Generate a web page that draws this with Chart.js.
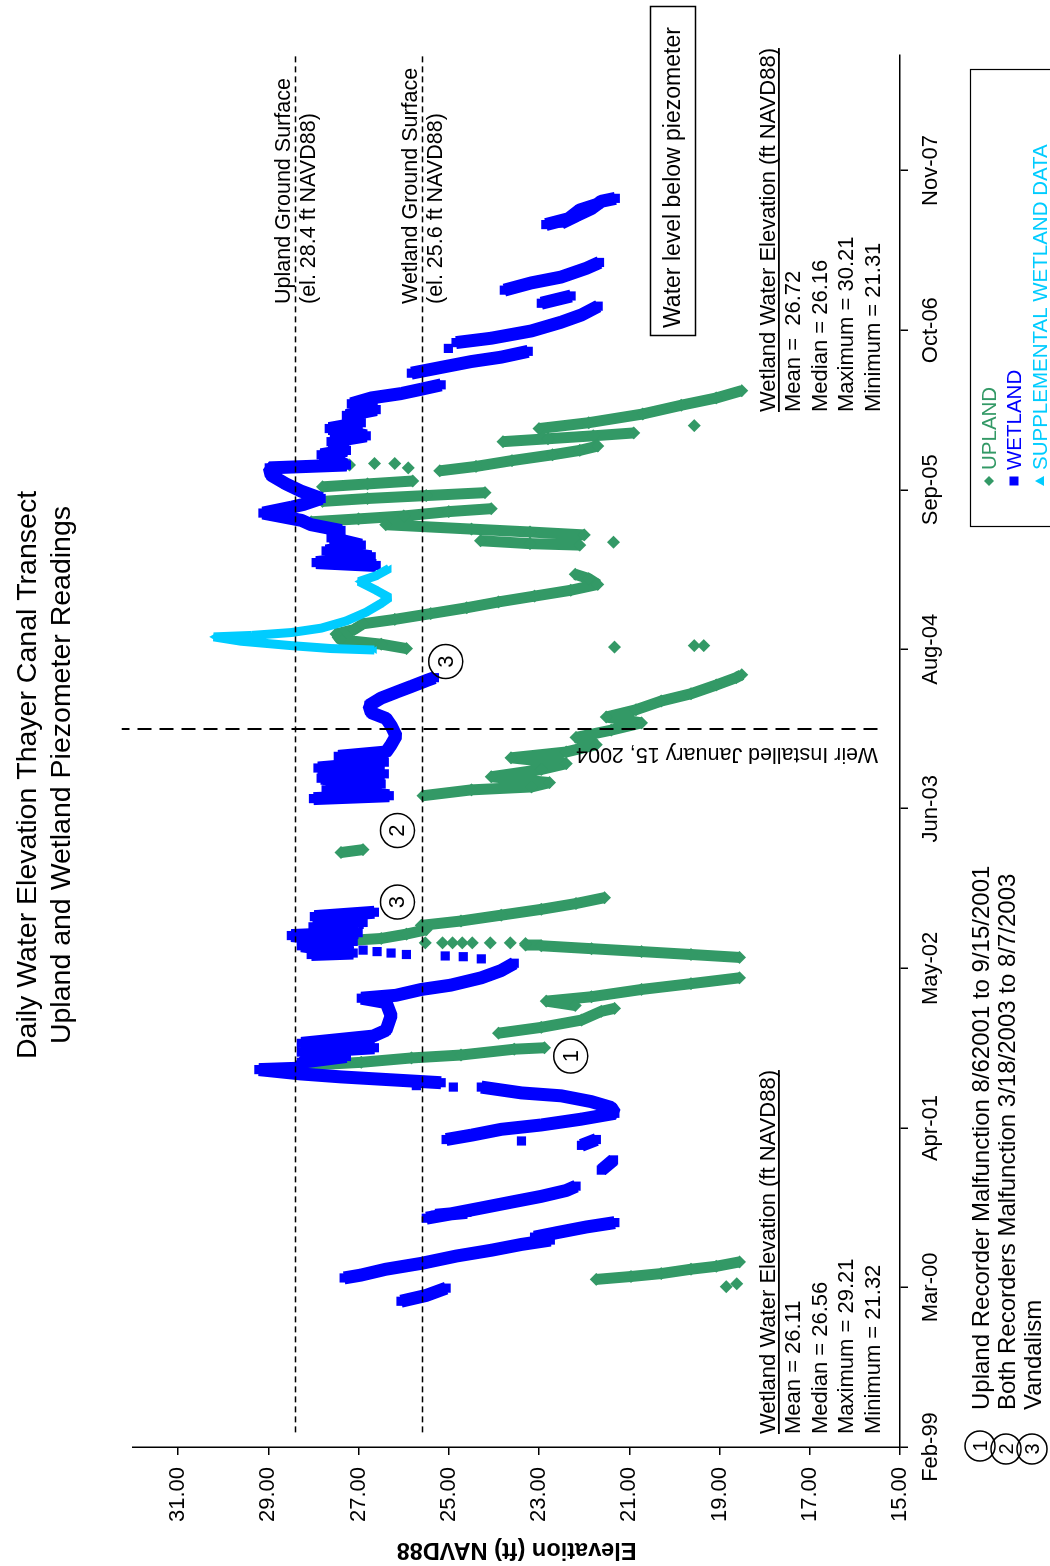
<!DOCTYPE html>
<html>
<head>
<meta charset="utf-8">
<script src="https://cdn.jsdelivr.net/npm/chart.js@4.4.1/dist/chart.umd.min.js"></script>
<style>
  html, body { margin: 0; padding: 0; background: #fff; width: 1050px; height: 1566px; overflow: hidden; }
  /* the chart is laid out landscape and turned a quarter turn counter-clockwise */
  #wrap { position: absolute; left: 0; top: 0; width: 1566px; height: 1050px;
          transform-origin: 0 0; transform: translate(0px, 1566px) rotate(-90deg); }
  canvas { display: block; }
</style>
</head>
<body>
<div id="wrap"><canvas id="chart" width="1566" height="1050"></canvas></div>
<script>
const FONT = "'Liberation Sans', Arial, Helvetica, sans-serif";
const GREEN = '#339966', BLUE = '#0000FF', CYAN = '#00CCFF';

// Date axis: 400-day major unit starting 10 Feb 1999
const tickDates  = ['1999-02-10','2000-03-16','2001-04-20','2002-05-25','2003-06-29','2004-08-02','2005-09-06','2006-10-11','2007-11-15'];
const tickLabels = ['Feb-99','Mar-00','Apr-01','May-02','Jun-03','Aug-04','Sep-05','Oct-06','Nov-07'];
const axisStart = '1999-02-10';
const axisEnd   = '2008-08-31';

// Elevation axis (ft NAVD88)
const elevTicks = [15, 17, 19, 21, 23, 25, 27, 29, 31];
const elevMin = 15, elevMax = 32;

// Reference elevations and dates
const uplandSurface = 28.4;
const wetlandSurface = 25.6;
const weirDate = '2004-01-15';

// Piezometer readings: [decimal year, elevation ft NAVD88]; null = break in the record
const upland = [
  [2000.21, 18.85], null, [2000.23, 18.62], null,
  [2000.26, 21.73], [2000.28, 20.96], [2000.30, 20.29], [2000.33, 19.63], [2000.35, 19.07], [2000.38, 18.56],
  null,
  [2001.73, 28.12], [2001.75, 26.94], [2001.78, 25.83], [2001.80, 24.73], [2001.84, 23.55], [2001.85, 22.88],
  null,
  [2001.95, 23.90], [2001.99, 22.95], [2002.04, 22.06], [2002.10, 21.62], [2002.12, 21.33],
  null,
  [2002.14, 22.20], [2002.17, 22.84], [2002.20, 21.84], [2002.25, 20.73], [2002.29, 19.63], [2002.33, 18.56],
  null,
  [2002.47, 18.56], [2002.49, 19.63], [2002.51, 20.73], [2002.53, 21.84], [2002.55, 22.95], [2002.555, 23.30],
  null,
  [2002.57, 25.52], null, [2002.57, 25.14], null, [2002.57, 24.92], null, [2002.57, 24.70], null,
  [2002.57, 24.48], null, [2002.57, 24.08], null, [2002.57, 23.64], null, [2002.565, 23.30], null,
  [2002.58, 27.54], [2002.60, 26.50], [2002.63, 25.94], [2002.66, 25.50], [2002.69, 25.61], [2002.72, 24.73],
  [2002.76, 23.84], [2002.80, 22.95], [2002.84, 22.18], [2002.88, 21.55],
  null,
  [2003.19, 27.39], [2003.21, 26.90],
  null,
  [2003.58, 25.57], [2003.62, 24.50], [2003.64, 23.17], [2003.67, 22.77], [2003.71, 24.06], [2003.76, 22.95],
  [2003.80, 22.40], [2003.84, 23.62], [2003.88, 22.40], [2003.93, 21.73], [2003.98, 22.18], [2004.03, 21.40],
  [2004.08, 20.73], [2004.12, 21.51], [2004.17, 20.85], [2004.23, 20.29], [2004.28, 19.63], [2004.34, 19.07],
  [2004.39, 18.63], [2004.41, 18.51],
  null,
  [2004.60, 21.33], null, [2004.61, 19.56], null, [2004.61, 19.35], null,
  [2004.59, 25.94], [2004.62, 26.50], [2004.65, 27.40], [2004.69, 27.50], [2004.72, 27.10], [2004.76, 26.90],
  [2004.79, 26.20], [2004.83, 25.40], [2004.87, 24.60], [2004.91, 23.90], [2004.95, 23.10], [2004.99, 22.30],
  [2005.03, 21.70], [2005.07, 21.90], [2005.10, 22.20],
  null,
  [2005.32, 21.35], null,
  [2005.30, 22.10], [2005.31, 23.20], [2005.33, 24.30],
  null,
  [2005.37, 22.00], [2005.39, 23.20], [2005.41, 24.50], [2005.44, 26.40],
  null,
  [2005.46, 28.05], [2005.48, 27.00], [2005.50, 26.00], [2005.53, 25.00], [2005.55, 24.06],
  null,
  [2005.60, 27.80], [2005.62, 26.80], [2005.64, 25.50], [2005.66, 24.20],
  null,
  [2005.70, 27.80], [2005.72, 26.80], [2005.74, 25.80],
  null,
  [2005.85, 27.20], null, [2005.86, 26.65], null, [2005.86, 26.20], null, [2005.83, 25.90], null,
  [2005.81, 25.20], [2005.84, 24.40], [2005.88, 23.60], [2005.92, 22.70], [2005.95, 22.10], [2005.98, 21.70],
  null,
  [2006.01, 23.80], [2006.03, 22.80], [2006.05, 21.80], [2006.07, 20.90],
  null,
  [2006.12, 19.56], null,
  [2006.10, 23.00], [2006.14, 21.90], [2006.20, 20.70], [2006.26, 19.85], [2006.31, 19.07], [2006.36, 18.51]
];

const wetland = [
  [2000.11, 26.06], [2000.15, 25.50], [2000.20, 25.06],
  null,
  [2000.27, 27.32], [2000.29, 26.94], [2000.33, 26.39], [2000.37, 25.61], [2000.42, 24.84], [2000.46, 24.06],
  [2000.50, 23.39], [2000.53, 22.75], [2000.55, 23.10], [2000.58, 22.62], [2000.62, 21.95], [2000.65, 21.32],
  null,
  [2000.68, 25.50], [2000.71, 24.95], [2000.75, 24.28], [2000.79, 23.62], [2000.83, 22.95], [2000.87, 22.40],
  [2000.90, 22.18],
  null,
  [2000.70, 25.30], [2000.72, 24.60],
  null,
  [2001.01, 21.62], [2001.08, 21.35],
  null,
  [2001.18, 22.06], [2001.22, 21.73],
  null,
  [2001.21, 23.39],
  null,
  [2001.22, 25.06], [2001.25, 24.50], [2001.29, 23.84], [2001.32, 22.95], [2001.36, 22.06], [2001.40, 21.32],
  [2001.44, 21.40], [2001.48, 21.84], [2001.52, 22.51], [2001.54, 23.39], [2001.58, 24.28],
  null,
  [2001.58, 24.90], null, [2001.59, 25.72], null,
  [2001.61, 25.17], [2001.63, 26.28], [2001.65, 27.39], [2001.67, 28.27], [2001.70, 29.21], [2001.71, 28.27],
  [2001.75, 28.27], [2001.79, 27.27],
  null,
  [2001.82, 28.27], [2001.85, 26.65], [2001.88, 28.27], [2001.93, 26.68], [2001.97, 26.39], [2002.07, 26.28],
  [2002.16, 26.39], [2002.19, 26.94], [2002.21, 26.17], [2002.25, 25.61], [2002.28, 24.95], [2002.33, 24.28],
  [2002.38, 23.84], [2002.43, 23.55],
  null,
  [2002.46, 24.28], null, [2002.475, 24.68], null, [2002.48, 25.08], null, [2002.49, 25.94], null,
  [2002.50, 26.28], null, [2002.51, 26.59], null, [2002.52, 26.90], null,
  [2002.49, 28.05], [2002.50, 27.12], [2002.55, 28.27], [2002.58, 27.12], [2002.62, 28.49], [2002.64, 27.01],
  [2002.68, 28.01], [2002.71, 26.90], [2002.75, 27.98], [2002.78, 26.65],
  null,
  [2003.56, 28.00], [2003.58, 26.32], [2003.62, 27.72], [2003.66, 26.50], [2003.70, 27.83], [2003.73, 26.43],
  [2003.77, 27.90], [2003.81, 26.43], [2003.85, 27.45], [2003.88, 26.39], [2003.93, 26.28], [2003.99, 26.17],
  [2004.06, 26.28], [2004.11, 26.39], [2004.15, 26.72], [2004.20, 26.77], [2004.25, 26.50], [2004.29, 26.17],
  [2004.33, 25.83], [2004.37, 25.50], [2004.39, 25.32],
  null,
  [2005.16, 26.61], [2005.18, 27.94], [2005.22, 26.72], [2005.26, 27.72], [2005.30, 26.94], [2005.35, 27.61],
  [2005.40, 27.39], [2005.44, 28.05], [2005.47, 28.27], [2005.52, 29.12], [2005.56, 28.49], [2005.58, 28.21],
  [2005.62, 27.83], [2005.67, 28.27], [2005.72, 28.61], [2005.78, 28.94], [2005.83, 28.98], [2005.85, 27.27],
  [2005.92, 27.83], [2005.95, 27.27], [2006.01, 27.61], [2006.05, 26.83], [2006.10, 27.65], [2006.14, 26.94],
  [2006.19, 27.27], [2006.23, 26.61], [2006.27, 27.16], [2006.31, 26.72], [2006.34, 26.06], [2006.37, 25.61],
  [2006.40, 25.17],
  null,
  [2006.48, 25.83], [2006.52, 25.17], [2006.56, 24.50], [2006.59, 23.84], [2006.63, 23.24],
  null,
  [2006.65, 25.01],
  null,
  [2006.69, 24.84], [2006.72, 24.06], [2006.77, 23.17], [2006.83, 22.51], [2006.88, 22.06], [2006.94, 21.69],
  null,
  [2006.96, 22.95], [2007.01, 22.29],
  null,
  [2007.05, 23.77], [2007.10, 23.17], [2007.14, 22.51], [2007.20, 21.95], [2007.24, 21.66],
  null,
  [2007.50, 22.85], [2007.54, 22.35], [2007.60, 22.10], [2007.64, 21.70],
  null,
  [2007.51, 22.51], [2007.56, 22.18], [2007.61, 21.84], [2007.66, 21.62], [2007.68, 21.31]
];

const supplemental = [
  [2004.58, 26.65], [2004.59, 27.61], [2004.61, 28.49], [2004.64, 29.60], [2004.67, 30.21], [2004.68, 29.38],
  [2004.70, 28.49], [2004.73, 27.83], [2004.78, 27.27], [2004.84, 26.83], [2004.90, 26.50], [2004.94, 26.32],
  [2004.99, 26.61], [2005.05, 26.99], [2005.09, 26.61], [2005.14, 26.32]
];

// Summary statistics for the wetland record, before and after the weir
const statsHeader = 'Wetland Water Elevation (ft NAVD88)';
const statsBefore = ['Mean = 26.11', 'Median = 26.56', 'Maximum = 29.21', 'Minimum = 21.32'];
const statsAfter  = ['Mean =  26.72', 'Median = 26.16', 'Maximum = 30.21', 'Minimum = 21.31'];

// Footnotes and the numbered flags placed beside the record
const notes = [
  ['1', 'Upland Recorder Malfunction 8/62001 to 9/15/2001'],
  ['2', 'Both Recorders Malfunction 3/18/2003 to 8/7/2003'],
  ['3', 'Vandalism']
];
const flags = [['1', 2001.793, 22.30], ['3', 2002.850, 26.14], ['2', 2003.341, 26.14], ['3', 2004.501, 25.07]];

function toYear(s) {
  const [Y, M, D] = s.split('-').map(Number);
  const t = Date.UTC(Y, M - 1, D), a = Date.UTC(Y, 0, 1), b = Date.UTC(Y + 1, 0, 1);
  return Y + (t - a) / (b - a);
}
function toPoints(list) {
  const out = [];
  let lastX = null;
  for (const p of list) {
    if (p === null) out.push({ x: lastX, y: null });
    else { out.push({ x: p[0], y: p[1] }); lastX = p[0]; }
  }
  return out;
}

const X_MIN = toYear(axisStart), X_MAX = toYear(axisEnd);

function circled(ctx, cx, cy, r, num, size) {
  ctx.beginPath();
  ctx.arc(cx, cy, r, 0, Math.PI * 2);
  ctx.lineWidth = 1.5;
  ctx.strokeStyle = '#000';
  ctx.stroke();
  ctx.font = size + 'px ' + FONT;
  ctx.textAlign = 'center';
  ctx.textBaseline = 'middle';
  ctx.fillStyle = '#000';
  ctx.fillText(num, cx, cy + 1);
}

const overlay = {
  id: 'overlay',
  afterDatasetsDraw(chart) {
    const { ctx, scales: { x, y } } = chart;
    ctx.save();
    ctx.strokeStyle = '#000';
    // ground surface elevations
    ctx.setLineDash([6, 4]);
    ctx.lineWidth = 1.5;
    for (const el of [uplandSurface, wetlandSurface]) {
      const py = Math.round(y.getPixelForValue(el)) + 0.5;
      ctx.beginPath();
      ctx.moveTo(x.getPixelForValue(1999.21), py);
      ctx.lineTo(x.getPixelForValue(X_MAX), py);
      ctx.stroke();
    }
    // weir installation date
    ctx.setLineDash([14, 8]);
    ctx.lineWidth = 2;
    const wx = Math.round(x.getPixelForValue(toYear(weirDate)));
    ctx.beginPath();
    ctx.moveTo(wx, y.getPixelForValue(15.5));
    ctx.lineTo(wx, y.getPixelForValue(32.25));
    ctx.stroke();
    ctx.restore();
  },
  afterDraw(chart) {
    const { ctx, scales: { x, y } } = chart;
    ctx.save();
    ctx.fillStyle = '#000';
    ctx.textBaseline = 'alphabetic';

    // title
    ctx.font = '28.5px ' + FONT;
    ctx.textAlign = 'center';
    ctx.fillText('Daily Water Elevation Thayer Canal Transect', 791, 36);
    ctx.fillText('Upland and Wetland Piezometer Readings', 791, 70);

    // elevation axis title
    ctx.save();
    ctx.translate(23, (chart.chartArea.top + chart.chartArea.bottom) / 2);
    ctx.rotate(-Math.PI / 2);
    ctx.font = 'bold 23.5px ' + FONT;
    ctx.textAlign = 'center';
    ctx.fillText('Elevation (ft) NAVD88', 0, 0);
    ctx.restore();

    // ground surface labels
    ctx.font = '21.5px ' + FONT;
    ctx.textAlign = 'left';
    const gu = y.getPixelForValue(uplandSurface), gw = y.getPixelForValue(wetlandSurface);
    ctx.fillText('Upland Ground Surface', 1262, gu - 5);
    ctx.fillText('(el. 28.4 ft NAVD88)', 1262, gu + 20);
    ctx.fillText('Wetland Ground Surface', 1262, gw - 5);
    ctx.fillText('(el. 25.6 ft NAVD88)', 1262, gw + 20);

    // weir label
    const wx = x.getPixelForValue(toYear(weirDate));
    ctx.save();
    ctx.translate(wx - 19, 878);
    ctx.rotate(-Math.PI / 2);
    ctx.font = '21.5px ' + FONT;
    ctx.fillText('Weir Installed January 15, 2004', 0, 0);
    ctx.restore();

    // statistics blocks
    function stats(u0, lines) {
      ctx.font = '22px ' + FONT;
      ctx.textAlign = 'left';
      ctx.fillText(statsHeader, u0, 775);
      const w = ctx.measureText(statsHeader).width;
      ctx.fillRect(u0, 778, w, 1.8);
      const base = [800, 827, 853, 880];
      lines.forEach((t, i) => ctx.fillText(t, u0, base[i]));
    }
    stats(132, statsBefore);
    stats(1154, statsAfter);

    // boxed note
    ctx.lineWidth = 1.5;
    ctx.strokeStyle = '#000';
    ctx.strokeRect(1230.5, 650.5, 329, 45);
    ctx.font = '23px ' + FONT;
    ctx.fillText('Water level below piezometer', 1238, 680);

    // numbered flags
    for (const [n, t, e] of flags) {
      circled(ctx, x.getPixelForValue(t), y.getPixelForValue(e), 17, n, 22);
    }

    // footnotes
    const noteBase = [989, 1015, 1041];
    notes.forEach(([n, txt], i) => {
      circled(ctx, 120 + (i > 0 ? -3 : 0), noteBase[i] - 9, 15, n, 20);
      ctx.font = '24px ' + FONT;
      ctx.textAlign = 'left';
      ctx.textBaseline = 'alphabetic';
      ctx.fillStyle = '#000';
      ctx.fillText(txt, 156, noteBase[i]);
    });

    // legend
    ctx.lineWidth = 1.2;
    ctx.strokeStyle = '#000';
    ctx.strokeRect(1039.5, 970.5, 457, 100);
    const items = [['UPLAND', GREEN, 'diamond'], ['WETLAND', BLUE, 'square'], ['SUPPLEMENTAL WETLAND DATA', CYAN, 'triangle']];
    const legBase = [996, 1021, 1047];
    items.forEach(([label, col, shape], i) => {
      const cy = legBase[i] - 7, cx = 1085;
      ctx.fillStyle = col;
      ctx.beginPath();
      if (shape === 'diamond') {
        ctx.moveTo(cx, cy - 5); ctx.lineTo(cx + 5, cy); ctx.lineTo(cx, cy + 5); ctx.lineTo(cx - 5, cy);
      } else if (shape === 'square') {
        ctx.rect(cx - 4.5, cy - 4.5, 9, 9);
      } else {
        ctx.moveTo(cx, cy - 5); ctx.lineTo(cx + 5, cy + 4); ctx.lineTo(cx - 5, cy + 4);
      }
      ctx.closePath();
      ctx.fill();
      ctx.font = '20.5px ' + FONT;
      ctx.textAlign = 'left';
      ctx.fillText(label, 1096, legBase[i]);
    });
    ctx.restore();
  }
};

new Chart(document.getElementById('chart'), {
  type: 'line',
  data: {
    datasets: [
      { label: 'UPLAND', data: toPoints(upland), borderColor: GREEN, backgroundColor: GREEN,
        pointBackgroundColor: GREEN, borderWidth: 11, pointStyle: 'rectRot', pointRadius: 6.5, pointBorderWidth: 0,
        borderJoinStyle: 'bevel', spanGaps: false, order: 3 },
      { label: 'WETLAND', data: toPoints(wetland), borderColor: BLUE, backgroundColor: BLUE,
        pointBackgroundColor: BLUE, borderWidth: 13, pointStyle: 'rect', pointRadius: 6.5, pointBorderWidth: 0,
        borderJoinStyle: 'bevel', spanGaps: false, order: 2 },
      { label: 'SUPPLEMENTAL WETLAND DATA', data: toPoints(supplemental), borderColor: CYAN, backgroundColor: CYAN,
        pointBackgroundColor: CYAN, borderWidth: 9, pointStyle: 'triangle', pointRadius: 4.5, pointBorderWidth: 0,
        borderJoinStyle: 'bevel', spanGaps: false, order: 1 }
    ]
  },
  options: {
    responsive: false,
    animation: false,
    devicePixelRatio: 1,
    layout: { padding: { top: 133, right: 55, left: 0, bottom: 0 } },
    elements: { line: { tension: 0 } },
    plugins: { legend: { display: false }, tooltip: { enabled: false }, title: { display: false } },
    scales: {
      x: {
        type: 'linear', position: 'bottom', min: X_MIN, max: X_MAX,
        afterBuildTicks: s => { s.ticks = tickDates.map(d => ({ value: toYear(d) })); },
        afterFit: s => { s.height = 150; },
        ticks: { autoSkip: false, maxRotation: 0, minRotation: 0, color: '#000', padding: 10,
                 font: { family: FONT, size: 22 }, callback: (v, i) => tickLabels[i] },
        grid: { drawOnChartArea: false, drawTicks: true, tickLength: 8, color: '#000', lineWidth: 1.5 },
        border: { display: true, color: '#000', width: 1.5 }
      },
      y: {
        type: 'linear', position: 'left', min: elevMin, max: elevMax,
        afterBuildTicks: s => { s.ticks = elevTicks.map(v => ({ value: v })); },
        afterFit: s => { s.width = 119; },
        ticks: { color: '#000', padding: 12, font: { family: FONT, size: 22 }, callback: v => Number(v).toFixed(2) },
        grid: { drawOnChartArea: false, drawTicks: true, tickLength: 8, color: '#000', lineWidth: 1.5 },
        border: { display: true, color: '#000', width: 1.5 }
      }
    }
  },
  plugins: [overlay]
});
</script>
</body>
</html>
